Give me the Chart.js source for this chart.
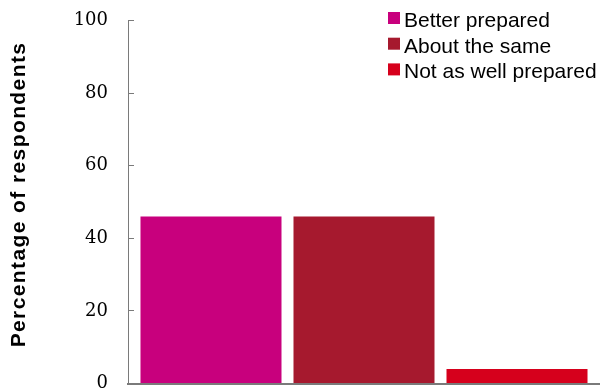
<!DOCTYPE html>
<html>
<head>
<meta charset="utf-8">
<script src="https://cdn.jsdelivr.net/npm/chart.js@4/dist/chart.umd.min.js"></script>
<style>
  html, body { margin: 0; padding: 0; background: #ffffff; }
  #wrap { width: 600px; height: 392px; position: relative; }
</style>
</head>
<body>
<div id="wrap"><canvas id="chart"></canvas></div>
<script>
// Survey result: how prepared respondents feel (share of respondents, %)
const categories = [''];
const seriesNames = ['Better prepared', 'About the same', 'Not as well prepared'];
const betterPrepared = [46];
const aboutTheSame = [46];
const notAsWellPrepared = [4];
const seriesColors = ['#C8007D', '#A6192E', '#D6001C'];
const yTickValues = [0, 20, 40, 60, 80, 100];
const yTitle = 'Percentage of respondents';

const seriesValues = [betterPrepared, aboutTheSame, notAsWellPrepared];
const axisGray = '#7a7a7a';

// Legend stacked in the upper right corner, over the plot area
const cornerLegend = {
  id: 'cornerLegend',
  afterDraw(chart) {
    const { ctx } = chart;
    ctx.save();
    ctx.font = '21px "Liberation Sans", Arial, sans-serif';
    ctx.textAlign = 'left';
    ctx.textBaseline = 'alphabetic';
    chart.data.datasets.forEach((ds, i) => {
      const top = 12 + i * 25.7;
      ctx.fillStyle = ds.backgroundColor;
      ctx.fillRect(388, top, 12, 12);
      ctx.fillStyle = '#000000';
      ctx.fillText(ds.label, 404, top + 15);
    });
    ctx.restore();
  }
};

// Rotated, letter-spaced title for the value axis
const valueAxisTitle = {
  id: 'valueAxisTitle',
  afterDraw(chart) {
    const { ctx } = chart;
    ctx.save();
    ctx.translate(19.5, 194.5);
    ctx.rotate(-Math.PI / 2);
    ctx.font = 'bold 21px "Liberation Sans", Arial, sans-serif';
    if ('letterSpacing' in ctx) ctx.letterSpacing = '1.4px';
    ctx.textAlign = 'center';
    ctx.textBaseline = 'middle';
    ctx.fillStyle = '#000000';
    ctx.fillText(yTitle, 0, 0);
    ctx.restore();
  }
};

new Chart(document.getElementById('chart'), {
  type: 'bar',
  data: {
    labels: categories,
    datasets: seriesNames.map((name, i) => ({
      label: name,
      data: seriesValues[i],
      backgroundColor: seriesColors[i],
      borderWidth: 0,
      categoryPercentage: 0.9725,
      barPercentage: 0.9216
    }))
  },
  options: {
    responsive: true,
    maintainAspectRatio: false,
    animation: false,
    layout: { padding: { top: 20.7, right: 0, bottom: 8.5, left: 0 } },
    plugins: {
      legend: { display: false },
      tooltip: { enabled: false }
    },
    scales: {
      x: {
        ticks: { display: false },
        grid: { display: false, drawTicks: false },
        border: { display: true, color: axisGray, width: 2 }
      },
      y: {
        min: 0,
        max: 100,
        afterBuildTicks(scale) {
          scale.ticks = yTickValues.map(v => ({ value: v }));
        },
        afterFit(scale) {
          scale.width = 128;
          scale.paddingTop = 0;
          scale.paddingBottom = 0;
        },
        ticks: {
          padding: 26,
          color: '#000000',
          font: { family: '"DejaVu Serif", "Liberation Serif", serif', size: 18, lineHeight: 1 }
        },
        grid: {
          drawOnChartArea: false,
          drawTicks: true,
          tickLength: -6,
          color: axisGray
        },
        border: { display: true, color: axisGray, width: 1 }
      }
    }
  },
  plugins: [cornerLegend, valueAxisTitle]
});
</script>
</body>
</html>
